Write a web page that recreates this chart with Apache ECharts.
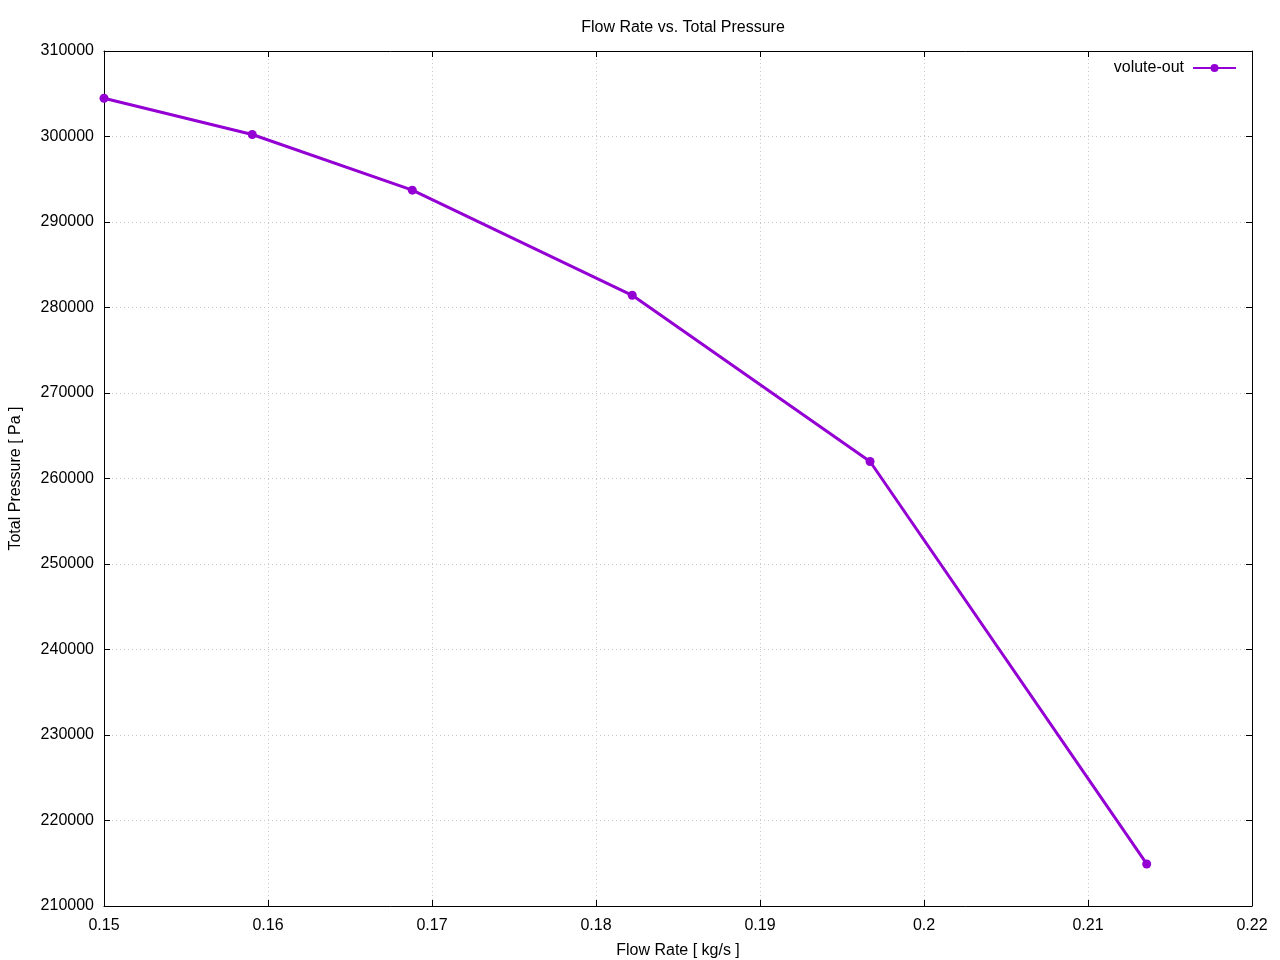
<!DOCTYPE html>
<html>
<head>
<meta charset="utf-8">
<script src="https://cdn.jsdelivr.net/npm/echarts@6/dist/echarts.min.js"></script>
<style>html,body{margin:0;padding:0;background:#fff}#c{width:1280px;height:960px}</style>
</head>
<body>
<div id="c"></div>
<script>
const seriesName = 'volute-out';
const flowRate = [0.15, 0.15904, 0.1688, 0.18221, 0.19671, 0.21358];
const totalPressure = [304473, 300234, 293724, 281428, 261991, 214918];
const titleText = 'Flow Rate vs. Total Pressure';
const xName = 'Flow Rate [ kg/s ]';
const yName = 'Total Pressure [ Pa ]';

const FONT = '"Liberation Sans", Arial, sans-serif';
const FS = 16;
const chart = echarts.init(document.getElementById('c'));
const frameAxis = {
  axisLine: {show: true, onZero: false, lineStyle: {color: '#000', width: 1}},
  axisTick: {show: true, inside: true, length: 6, lineStyle: {color: '#000'}},
};
chart.setOption({
  animation: false,
  backgroundColor: '#fff',
  textStyle: {fontFamily: FONT},
  title: {
    text: titleText, left: 678, top: 15, textAlign: 'center',
    textStyle: {fontFamily: FONT, fontSize: FS, fontWeight: 'normal', color: '#000'}
  },
  grid: {left: 104, right: 28, top: 51, bottom: 54, containLabel: false, outerBoundsMode: 'none'},
  legend: {
    right: 38, top: 55, align: 'right', itemWidth: 43, itemHeight: 10, itemGap: 0,
    textStyle: {fontFamily: FONT, fontSize: FS, color: '#000', padding: [0, 4, 0, 0]},
    data: [seriesName]
  },
  xAxis: [{
    type: 'value', min: 0.15, max: 0.22, interval: 0.01, position: 'bottom',
    name: xName, nameLocation: 'middle', nameGap: 37,
    nameTextStyle: {fontFamily: FONT, fontSize: FS, color: '#000'},
    ...frameAxis,
    axisLabel: {color: '#000', fontSize: FS, fontFamily: FONT, margin: 12,
      formatter: v => String(+v.toFixed(2))},
    splitLine: {show: true, lineStyle: {color: '#c8c8c8', type: [1, 3], width: 1}}
  }, {
    type: 'value', min: 0.15, max: 0.22, interval: 0.01, position: 'top',
    ...frameAxis, axisLabel: {show: false}, splitLine: {show: false}
  }],
  yAxis: [{
    type: 'value', min: 210000, max: 310000, interval: 10000, position: 'left',
    name: yName, nameLocation: 'middle', nameGap: 80, nameRotate: 90,
    nameTextStyle: {fontFamily: FONT, fontSize: FS, color: '#000'},
    ...frameAxis,
    axisLabel: {color: '#000', fontSize: FS, fontFamily: FONT, margin: 10,
      formatter: v => String(Math.round(v))},
    splitLine: {show: true, lineStyle: {color: '#c8c8c8', type: [1, 3], width: 1}}
  }, {
    type: 'value', min: 210000, max: 310000, interval: 10000, position: 'right',
    ...frameAxis, axisLabel: {show: false}, splitLine: {show: false}
  }],
  series: [{
    name: seriesName, type: 'line',
    data: flowRate.map((x, i) => [x, totalPressure[i]]),
    color: '#9400D3',
    lineStyle: {width: 3, color: '#9400D3'},
    symbol: 'circle', symbolSize: 9,
    itemStyle: {color: '#9400D3'},
    xAxisIndex: 0, yAxisIndex: 0
  }]
});
</script>
</body>
</html>
